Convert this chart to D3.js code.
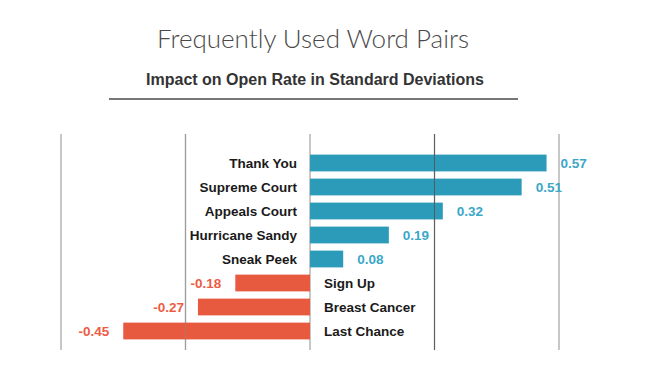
<!DOCTYPE html>
<html>
<head>
<meta charset="utf-8">
<script src="https://cdn.jsdelivr.net/npm/d3@7"></script>
<style>
  body { margin: 0; background: #fff; }
  svg { display: block; }
</style>
</head>
<body>
<div class="chart"></div>
<script>
// Data
const pairs = ['Thank You', 'Supreme Court', 'Appeals Court', 'Hurricane Sandy', 'Sneak Peek', 'Sign Up', 'Breast Cancer', 'Last Chance'];
const impact = [0.57, 0.51, 0.32, 0.19, 0.08, -0.18, -0.27, -0.45];
const gridValues = [-0.6, -0.3, 0, 0.3, 0.6];

const width = 651, height = 376;

const svg = d3.select('.chart')
    .append('svg')
        .attr('width', width)
        .attr('height', height);

// Scales
const x = d3.scaleLinear().domain([-0.6, 0.6]).range([61, 559]);
const y = d3.scaleBand().domain(pairs).range([151, 343]).paddingInner(0.3).paddingOuter(0.15);

const data = pairs.map((p, i) => ({ name: p, value: impact[i] }));

// Titles
svg.append('text')
    .attr('x', 313).attr('y', 48)
    .attr('text-anchor', 'middle')
    .attr('font-family', 'Lato, "Open Sans", sans-serif')
    .attr('font-weight', 300)
    .attr('font-size', 26)
    .attr('fill', '#4a4a4a')
    .text('Frequently Used Word Pairs');

svg.append('text')
    .attr('x', 315).attr('y', 85)
    .attr('text-anchor', 'middle')
    .attr('font-family', '"Liberation Sans", Arial, sans-serif')
    .attr('font-weight', 'bold')
    .attr('font-size', 16)
    .attr('fill', '#333')
    .text('Impact on Open Rate in Standard Deviations');

svg.append('line')
    .attr('x1', 109).attr('x2', 518)
    .attr('y1', 99).attr('y2', 99)
    .attr('stroke', '#777')
    .attr('stroke-width', 2);

// Gridlines (behind)
const grid = svg.append('g').attr('class', 'grid');
grid.selectAll('line')
    .data(gridValues)
    .join('line')
        .attr('x1', d => x(d)).attr('x2', d => x(d))
        .attr('y1', 134).attr('y2', 350)
        .attr('stroke', '#b5b5b5')
        .attr('stroke-width', 1.5);

// Bars
svg.append('g').attr('class', 'bars')
    .selectAll('rect')
    .data(data)
    .join('rect')
        .attr('x', d => x(Math.min(0, d.value)))
        .attr('width', d => Math.abs(x(d.value) - x(0)))
        .attr('y', d => y(d.name))
        .attr('height', y.bandwidth())
        .attr('fill', d => d.value >= 0 ? '#2c9bb9' : '#e85a40');

// Darker gridlines showing through bars
svg.append('g')
    .selectAll('line')
    .data([-0.3, 0.3])
    .join('line')
        .attr('x1', d => x(d)).attr('x2', d => x(d))
        .attr('y1', 134).attr('y2', 350)
        .attr('stroke', d => d > 0 ? '#555' : '#888')
        .attr('stroke-opacity', d => d > 0 ? 0.9 : 0.5)
        .attr('stroke-width', 1);

// Category labels
svg.append('g').attr('class', 'labels')
    .selectAll('text')
    .data(data)
    .join('text')
        .attr('x', d => d.value >= 0 ? x(0) - 13 : x(0) + 14)
        .attr('y', d => y(d.name) + y.bandwidth() / 2)
        .attr('dy', '0.36em')
        .attr('text-anchor', d => d.value >= 0 ? 'end' : 'start')
        .attr('font-family', '"Liberation Sans", Arial, sans-serif')
        .attr('font-weight', 'bold')
        .attr('font-size', 13.5)
        .attr('fill', '#1a1a1a')
        .text(d => d.name);

// Value labels
svg.append('g').attr('class', 'values')
    .selectAll('text')
    .data(data)
    .join('text')
        .attr('x', d => d.value >= 0 ? x(d.value) + 14 : x(d.value) - 14)
        .attr('y', d => y(d.name) + y.bandwidth() / 2)
        .attr('dy', '0.36em')
        .attr('text-anchor', d => d.value >= 0 ? 'start' : 'end')
        .attr('font-family', '"Liberation Sans", Arial, sans-serif')
        .attr('font-weight', 'bold')
        .attr('font-size', 13.5)
        .attr('fill', d => d.value >= 0 ? '#3ba7c9' : '#ec5c43')
        .text(d => d3.format('.2f')(d.value).replace('−', '-'));
</script>
</body>
</html>
